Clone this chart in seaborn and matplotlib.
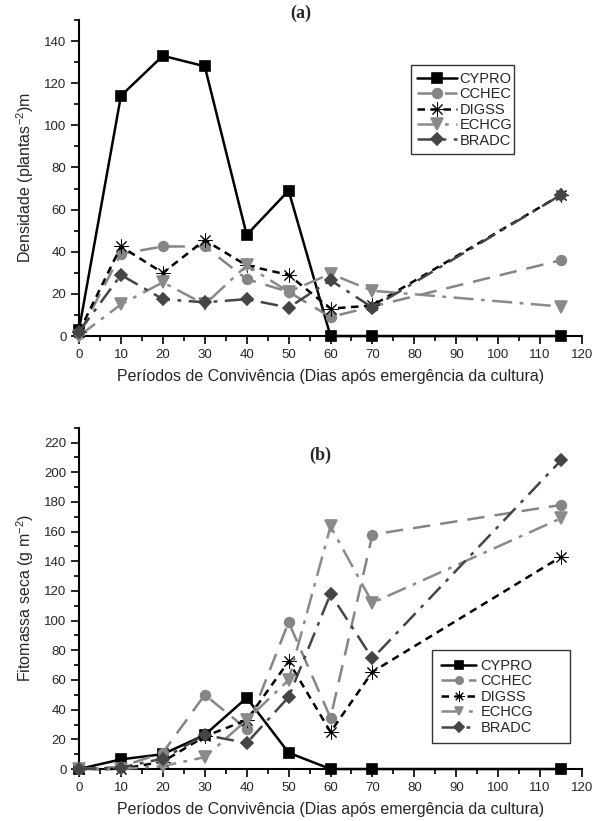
import numpy as np
import pandas as pd
import matplotlib
matplotlib.use("Agg")
import matplotlib.pyplot as plt
from matplotlib.ticker import MultipleLocator
import seaborn as sns

# dias apos emergencia
dias = [0, 10, 20, 30, 40, 50, 60, 70, 115]
especies = ["CYPRO", "CCHEC", "DIGSS", "ECHCG", "BRADC"]

# (a) densidade (plantas m-2)
dens_cypro = [3, 114, 133, 128, 48, 69, 0, 0, 0]
dens_cchec = [1, 39, 42.5, 42.5, 27, 21, 9, 14, 36]
dens_digss = [2, 42.5, 30, 45.5, 33.5, 29, 13, 14.5, 67]
dens_echcg = [0, 15, 25.5, 15, 33.5, 21, 29.5, 21.5, 14]
dens_bradc = [2, 29, 17.5, 16, 17.5, 13.5, 26.5, 13.5, 67]

# (b) fitomassa seca (g m-2)
fito_cypro = [0, 6.5, 10, 23, 48, 11, 0, 0, 0]
fito_cchec = [0, 1.5, 11, 50, 27, 99, 34.5, 158, 178]
fito_digss = [0, 0, 5, 22, 33, 72.5, 25, 65.5, 143]
fito_echcg = [0, 0, 2, 8, 33, 60, 163.5, 112, 169]
fito_bradc = [0, 1, 7, 23, 17.5, 48.5, 118, 74.5, 208]

estilo = {
    "CYPRO": dict(color="black", marker="s", ls="-", ms=7, mew=1.2),
    "CCHEC": dict(color="#858585", marker="o", ls=(0, (7, 4)), ms=7, mew=1.2),
    "DIGSS": dict(color="black", marker=(8, 2, 0), ls=(0, (3, 2.2)), ms=10, mew=0.7),
    "ECHCG": dict(color="#8a8a8a", marker="v", ls=(0, (8, 3, 1.5, 3)), ms=8, mew=1.2),
    "BRADC": dict(color="#454545", marker="D", ls=(0, (7, 3, 1.5, 3)), ms=6.5, mew=1.2),
}

sns.set_theme(style="ticks")
plt.rcParams["font.family"] = ["Liberation Sans", "DejaVu Sans"]
plt.rcParams["mathtext.fontset"] = "custom"
plt.rcParams["mathtext.rm"] = "Liberation Sans"


def painel(ax, valores, ymax, letra):
    df = pd.DataFrame({"dias": dias * len(especies),
                       "valor": sum(valores, []),
                       "especie": np.repeat(especies, len(dias))})
    for esp in especies:
        st = estilo[esp]
        sns.lineplot(data=df[df["especie"] == esp], x="dias", y="valor", ax=ax,
                     label=esp, color=st["color"], marker=st["marker"],
                     linestyle=st["ls"], markersize=st["ms"], linewidth=1.8,
                     markeredgecolor=st["color"], markeredgewidth=st["mew"],
                     clip_on=False, zorder=3)
    ax.set_xlim(0, 120)
    ax.set_ylim(0, ymax)
    ax.xaxis.set_major_locator(MultipleLocator(10))
    ax.xaxis.set_minor_locator(MultipleLocator(5))
    ax.yaxis.set_major_locator(MultipleLocator(20))
    ax.yaxis.set_minor_locator(MultipleLocator(10))
    ax.tick_params(which="major", length=6, width=1.2, labelsize=9.5, direction="out",
                   color="black", pad=3)
    ax.tick_params(which="minor", length=3.5, width=1.2, direction="out", color="black")
    for s in ["top", "right"]:
        ax.spines[s].set_visible(False)
    for s in ["left", "bottom"]:
        ax.spines[s].set_linewidth(1.5)
        ax.spines[s].set_color("black")
    ax.set_xlabel("Períodos de Convivência (Dias após emergência da cultura)", fontsize=11.5, labelpad=6)
    ax.text(letra[0], letra[1], letra[2], transform=ax.transAxes, ha="center", va="center",
            fontsize=13, fontweight="bold", family="Liberation Serif")


fig = plt.figure(figsize=(5.95, 8.21), dpi=100)
ax1 = fig.add_axes([0.1328, 0.5907, 0.8454, 0.385])
ax2 = fig.add_axes([0.1328, 0.0633, 0.8454, 0.4157])

painel(ax1, [dens_cypro, dens_cchec, dens_digss, dens_echcg, dens_bradc], 150,
       (0.44, 1.02, "(a)"))
ax1.set_ylabel("Densidade (plantas$^{-2}$)m", fontsize=11.5, labelpad=6)
leg1 = ax1.legend(loc="upper left", bbox_to_anchor=(0.645, 0.87, 0.235, 0.01), mode="expand",
                  frameon=True, fancybox=False, edgecolor="black", fontsize=10.5,
                  handlelength=2.7, borderpad=0.45, labelspacing=0.1, handletextpad=0.2)
leg1.get_frame().set_linewidth(1.0)

painel(ax2, [fito_cypro, fito_cchec, fito_digss, fito_echcg, fito_bradc], 230,
       (0.48, 0.92, "(b)"))
ax2.set_ylabel("Fitomassa seca (g m$^{-2}$)", fontsize=11.5, labelpad=6)
leg2 = ax2.legend(loc="upper left", bbox_to_anchor=(0.688, 0.36, 0.302, 0.01), mode="expand",
                  frameon=True, fancybox=False, edgecolor="black", fontsize=10.5,
                  handlelength=2.4, borderpad=0.6, labelspacing=0.1, handletextpad=0.3,
                  markerscale=0.75)
leg2.get_frame().set_linewidth(1.0)

fig.savefig("out.png", dpi=100)
